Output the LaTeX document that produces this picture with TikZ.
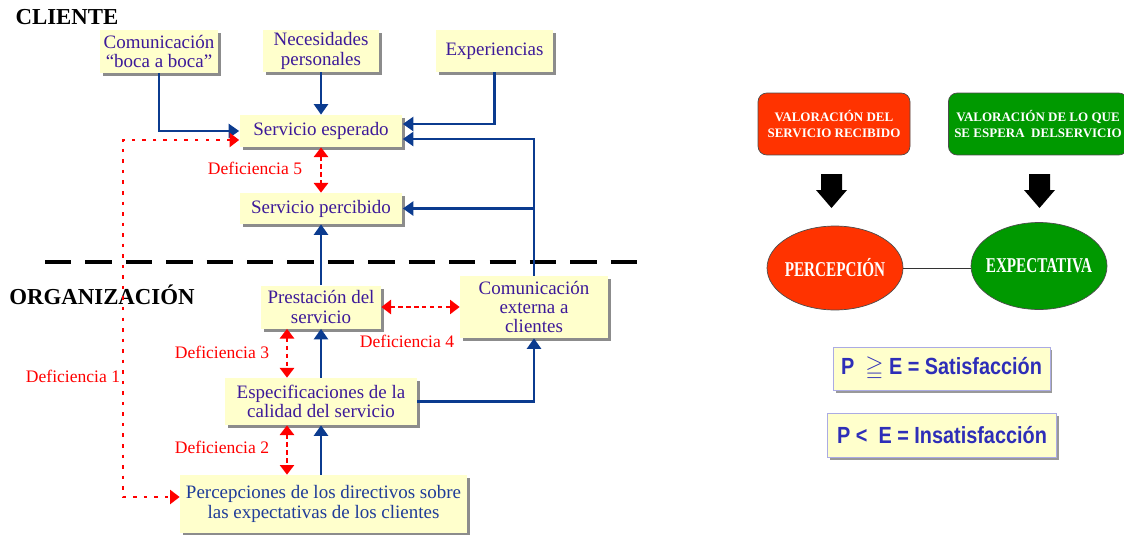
\documentclass[tikz,border=0pt]{standalone}
\usepackage{fontspec}
\usepackage{amssymb}
\setmainfont{Liberation Serif}
\newfontfamily\narrowsans[FakeStretch=0.85]{Liberation Sans}
\newfontfamily\narrowserif[FakeStretch=0.72]{Liberation Serif}
\usetikzlibrary{arrows.meta,calc,shadows,shapes.geometric}

\definecolor{boxfill}{HTML}{FFFFCC}
\definecolor{boxtext}{HTML}{3D1A99}
\definecolor{dirtext}{HTML}{1F3C99}
\definecolor{flowblue}{HTML}{0B3B8F}
\definecolor{valred}{HTML}{FF3300}
\definecolor{valgreen}{HTML}{009900}
\definecolor{eqblue}{HTML}{2E2EB8}

\tikzset{
  yellowbox/.style={fill=boxfill, text=boxtext, align=center, inner sep=1pt,
    font=\fontsize{10.8}{11}\selectfont,
    drop shadow={shadow xshift=0.06cm, shadow yshift=-0.06cm, fill=black!45, opacity=1}},
  flow/.style={draw=flowblue, line width=1.4pt, -{Triangle[width=8pt,length=6pt]}},
  gap/.style={draw=red, line width=1.6pt, dash pattern=on 2.5pt off 2pt,
    {Triangle[width=8pt,length=5.5pt]}-{Triangle[width=8pt,length=5.5pt]}},
  gaplabel/.style={text=red, font=\fontsize{10}{11}\selectfont},
  side/.style={font=\bfseries\fontsize{13}{14}\selectfont},
  valbox/.style={rounded corners=5pt, draw=black!70, text=white, align=center,
    font=\bfseries\fontsize{7.4}{9.2}\selectfont, minimum width=#1, minimum height=1.24cm},
  valell/.style={ellipse, draw=black!70, text=white, inner xsep=-10pt, inner ysep=0pt,
    font=\narrowserif\bfseries\fontsize{12}{13}\selectfont,
    minimum width=2.72cm, minimum height=1.68cm},
  eqbox/.style={fill=boxfill, draw=eqblue!40, text=eqblue, font=\narrowsans\bfseries\fontsize{13.3}{14}\selectfont,
    drop shadow={shadow xshift=0.05cm, shadow yshift=-0.05cm, fill=black!40, opacity=1}}
}

\begin{document}
\begin{tikzpicture}[x=0.02cm, y=-0.02cm]
\useasboundingbox (0,0) rectangle (1124,534);

% Cliente
\node[side] (cliente) at (67,17) {CLIENTE};
\node[yellowbox, minimum width=2.36cm, minimum height=0.86cm] (boca) at (159,51.5) {Comunicación\\``boca a boca''};
\node[yellowbox, minimum width=2.34cm, minimum height=0.84cm] (neces) at (321,51) {Necesidades\\personales};
\node[yellowbox, minimum width=2.34cm, minimum height=0.84cm] (exper) at (494.5,51) {Experiencias};
\node[yellowbox, minimum width=3.26cm, minimum height=0.64cm] (esper) at (321,131) {Servicio esperado};
\node[yellowbox, minimum width=3.26cm, minimum height=0.62cm] (percib) at (321,208.5) {Servicio percibido};

% Separacion
\draw[line width=2.2pt, dash pattern=on 15pt off 8pt] (45,262) coordinate (sepA) -- (645,262) coordinate (sepB);

% Organizacion
\node[side] (organ) at (102,295) {ORGANIZACIÓN};
\node[yellowbox, minimum width=2.40cm, minimum height=0.86cm] (prest) at (321,307) {Prestación del\\servicio};
\node[yellowbox, minimum width=2.96cm, minimum height=1.24cm] (comext) at (534,307) {Comunicación\\externa a\\clientes};
\node[yellowbox, minimum width=3.84cm, minimum height=0.94cm] (espec) at (321,401.5) {Especificaciones de la\\calidad del servicio};
\node[yellowbox, text=dirtext, minimum width=5.74cm, minimum height=1.16cm] (direc) at (323.5,504) {Percepciones de los directivos sobre\\las expectativas de los clientes};

% Flujos
\draw[flow] (boca.south) |- (esper.west);
\draw[flow] (neces.south) -- (esper.north);
\draw[flow] (exper.south) |- ($(esper.east)+(0,-7)$);
\draw[flow] (comext.north) |- ($(esper.east)+(0,8)$);
\draw[flow] (comext.north |- percib.east) -- (percib.east);
\draw[flow] (prest.north) -- (percib.south);
\draw[flow] (espec.north) -- (prest.south);
\draw[flow] (espec.south |- direc.north) -- (espec.south);
\draw[flow] (espec.east) -| (comext.south);

% Deficiencias
\draw[gap] (esper.south) -- (percib.north);
\draw[gap] ($(prest.south)+(-34,0)$) -- ($(espec.north)+(-34,0)$);
\draw[gap] ($(espec.south)+(-34,0)$) -- ($(espec.south |- direc.north)+(-34,0)$);
\draw[gap] (prest.east) -- (comext.west);
\coordinate (d1top) at (123,140);
\coordinate (d1bot) at (123,497);
\draw[gap, line width=1.5pt, dash pattern=on 2pt off 4pt] ($(esper.west)+(0,9)$) -- (d1top) -- (d1bot) -- ($(direc.west)+(0,-7)$);

\node[gaplabel] (def5) at (255,168) {Deficiencia 5};
\node[gaplabel] (def3) at (222,352) {Deficiencia 3};
\node[gaplabel] (def4) at (407,341) {Deficiencia 4};
\node[gaplabel] (def2) at (222,447) {Deficiencia 2};
\node[gaplabel] (def1) at (73,376) {Deficiencia 1};

% Valoracion
\node[valbox=3.04cm, fill=valred] (valrec) at (834,124) {VALORACIÓN DEL\\SERVICIO RECIBIDO};
\node[valbox=3.32cm, fill=valgreen] (valesp) at (1038,124) {VALORACIÓN DE LO QUE\\SE ESPERA\ \ DELSERVICIO};

\fill (821,174) -- (842,174) -- (842,190) -- (847,190) -- (831.5,208) -- (816,190) -- (821,190) -- cycle;
\fill (1029,174) -- (1050,174) -- (1050,190) -- (1055,190) -- (1039.5,208) -- (1024,190) -- (1029,190) -- cycle;

\node[valell, fill=valred] (percepc) at (835,268) {PERCEPCIÓN};
\node[valell, fill=valgreen, minimum height=1.74cm] (expect) at (1039,266) {EXPECTATIVA};
\draw[black!80] (percepc.east) -- (percepc.east -| expect.west);

\node[eqbox, minimum width=4.34cm, minimum height=0.86cm] (satis) at (941.5,368.5) {P \ $\geqq$ E = Satisfacción};
\node[eqbox, minimum width=4.58cm, minimum height=0.88cm] (insat) at (942,435) {P < \ E = Insatisfacción};

\end{tikzpicture}
\end{document}
